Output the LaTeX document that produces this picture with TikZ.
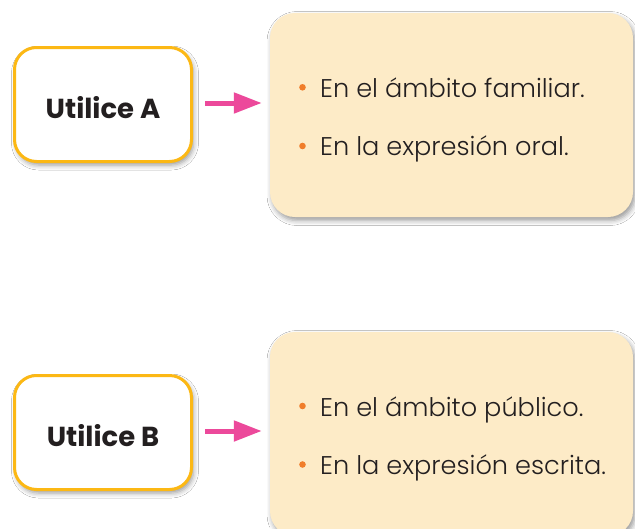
\documentclass[tikz,border=0pt]{standalone}
\usepackage{fontspec}
\setmainfont{Poppins}
\newfontfamily\itemfont{Poppins Light}
\usetikzlibrary{arrows.meta,shadows.blur}
\definecolor{boxyellow}{RGB}{252,184,20}
\definecolor{listcream}{RGB}{253,235,199}
\definecolor{arrowpink}{RGB}{236,73,155}
\definecolor{bulletorange}{RGB}{240,125,42}
\definecolor{textdark}{RGB}{35,31,32}
\tikzset{
  usebox/.style={draw=boxyellow, line width=3pt, fill=white, rounded corners=22pt,
    minimum width=177pt, minimum height=114pt, inner sep=0pt,
    blur shadow={shadow xshift=2pt, shadow yshift=-3.5pt, shadow blur radius=5pt, shadow opacity=40}},
  listbox/.style={fill=listcream, rounded corners=25pt,
    minimum width=363pt, minimum height=204pt, inner sep=0pt,
    blur shadow={shadow xshift=2pt, shadow yshift=-3.5pt, shadow blur radius=5pt, shadow opacity=40}},
  uselabel/.style={font=\fontsize{27.5}{30}\selectfont\bfseries, text=textdark, inner sep=0pt},
  itemtext/.style={font=\itemfont\fontsize{25.6}{28}\selectfont, text=textdark, anchor=base west, inner sep=0pt},
  bulletdot/.style={fill=bulletorange},
  pinkarrow/.style={draw=arrowpink, line width=5pt, -{Triangle[length=28pt,width=20pt]}}
}
\begin{document}
\begin{tikzpicture}[x=1pt,y=-1pt]
\useasboundingbox[fill=white] (0,0) rectangle (635,528);
% group A
\node[usebox] (boxA) at (103,104.5) {};
\node[uselabel] (labA) at (103,107.5) {Utilice A};
\node[listbox] (listA) at (451.5,115) {};
\fill[bulletdot] (302.5,87.3) circle (3.3pt);
\node[itemtext] (itemA1) at (320,97.5) {En el ámbito familiar.};
\fill[bulletdot] (302.5,146) circle (3.3pt);
\node[itemtext] (itemA2) at (320,155) {En la expresión oral.};
\draw[pinkarrow] ([xshift=12pt,yshift=1.5pt]boxA.east) -- ([xshift=-8pt,yshift=1.5pt]boxA.east -| listA.west);
% group B
\node[usebox] (boxB) at (103,432.5) {};
\node[uselabel] (labB) at (103,435.5) {Utilice B};
\node[listbox] (listB) at (451.5,434) {};
\fill[bulletdot] (302.5,406) circle (3.3pt);
\node[itemtext] (itemB1) at (320,416) {En el ámbito público.};
\fill[bulletdot] (302.5,464.5) circle (3.3pt);
\node[itemtext] (itemB2) at (320,474) {En la expresión escrita.};
\draw[pinkarrow] ([xshift=12pt,yshift=1.5pt]boxB.east) -- ([xshift=-8pt,yshift=1.5pt]boxB.east -| listB.west);
\end{tikzpicture}
\end{document}
